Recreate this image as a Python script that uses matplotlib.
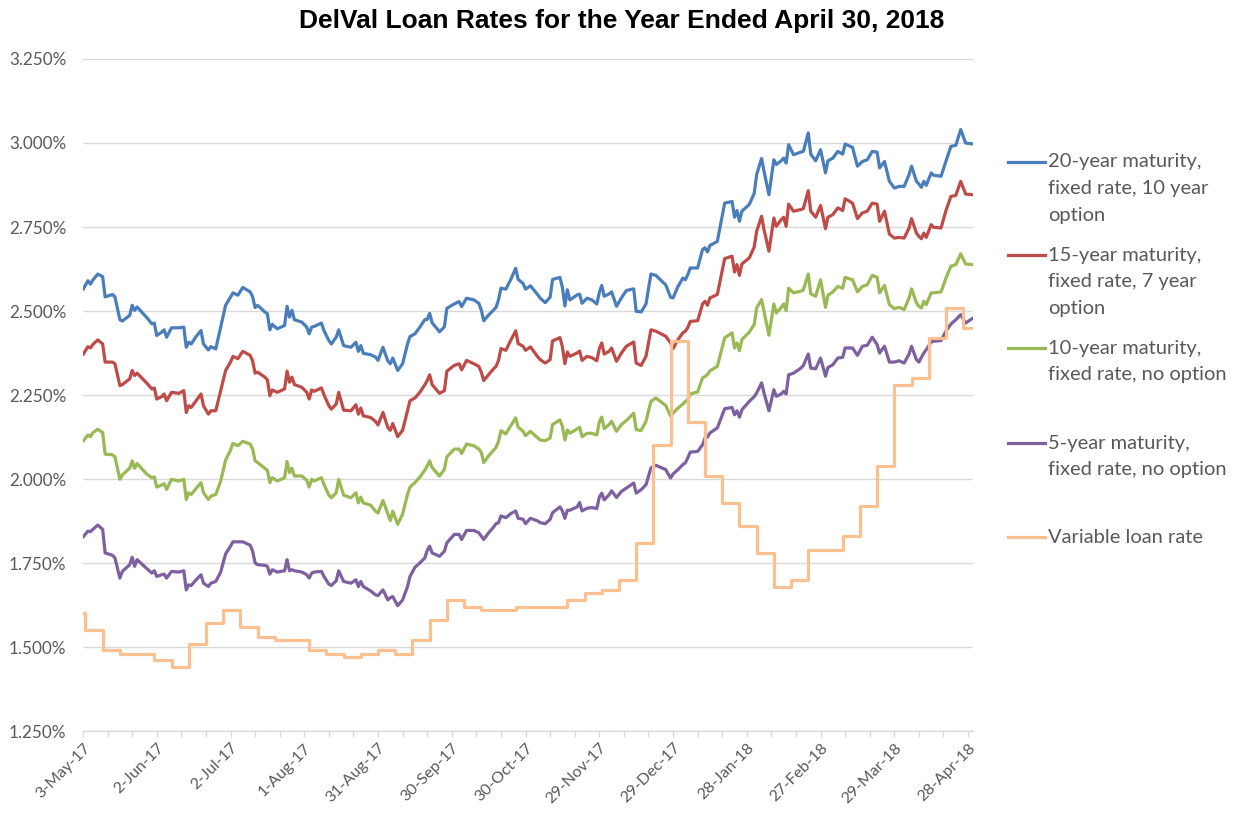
import numpy as np
import pandas as pd
import matplotlib
matplotlib.use('Agg')
import matplotlib.pyplot as plt
from matplotlib.lines import Line2D
from matplotlib.ticker import FuncFormatter

plt.rcParams['font.family'] = ['Lato', 'DejaVu Sans']

# --- data: rates in percent, days counted from 3 May 2017 ---
start = pd.Timestamp('2017-05-03')
end_day = 362

day = [0, 2, 3, 4, 6, 8, 9, 12, 13, 15,
       16, 19, 20, 21, 22, 26, 28, 29, 30, 32,
       33, 34, 36, 39, 41, 42, 43, 44, 46, 48,
       49, 51, 52, 54, 56, 58, 60, 61, 63, 65,
       68, 69, 70, 71, 74, 75, 76, 77, 79, 82,
       83, 84, 85, 86, 89, 91, 92, 93, 94, 97,
       98, 100, 101, 103, 104, 106, 109, 111, 112, 113,
       114, 117, 119, 120, 122, 124, 125, 126, 128, 130,
       132, 133, 135, 137, 139, 140, 141, 142, 145, 147,
       148, 151, 153, 154, 156, 159, 161, 162, 163, 165,
       167, 168, 169, 170, 172, 174, 176, 177, 179, 180,
       182, 185, 186, 188, 190, 191, 194, 195, 196, 197,
       198, 201, 202, 203, 205, 207, 209, 210, 211, 212,
       214, 215, 217, 219, 221, 224, 225, 227, 229, 231,
       233, 237, 239, 240, 242, 244, 245, 246, 247, 250,
       252, 253, 254, 255, 258, 261, 264, 265, 266, 267,
       268, 271, 273, 274, 276, 277, 279, 281, 282, 284,
       285, 286, 287, 289, 292, 293, 295, 296, 298, 300,
       302, 303, 305, 307, 309, 310, 313, 315, 317, 319,
       321, 323, 324, 326, 328, 330, 332, 334, 336, 337,
       339, 340, 341, 342, 343, 345, 346, 349, 351, 353,
       355, 357, 359, 362]

rate_20y = [2.564, 2.590, 2.580, 2.592, 2.610, 2.602, 2.542, 2.549, 2.542, 2.474,
            2.470, 2.487, 2.517, 2.502, 2.512, 2.480, 2.462, 2.464, 2.427, 2.437,
            2.444, 2.422, 2.450, 2.450, 2.452, 2.392, 2.407, 2.402, 2.424, 2.442,
            2.402, 2.384, 2.394, 2.387, 2.452, 2.517, 2.542, 2.554, 2.547, 2.570,
            2.557, 2.542, 2.510, 2.517, 2.497, 2.492, 2.444, 2.460, 2.447, 2.457,
            2.514, 2.482, 2.502, 2.474, 2.467, 2.452, 2.432, 2.452, 2.454, 2.464,
            2.442, 2.412, 2.402, 2.422, 2.444, 2.397, 2.392, 2.407, 2.380, 2.397,
            2.374, 2.370, 2.363, 2.353, 2.392, 2.351, 2.343, 2.360, 2.323, 2.343,
            2.402, 2.424, 2.432, 2.452, 2.474, 2.475, 2.493, 2.465, 2.438, 2.453,
            2.508, 2.521, 2.528, 2.513, 2.538, 2.533, 2.523, 2.503, 2.471, 2.488,
            2.503, 2.511, 2.533, 2.568, 2.565, 2.594, 2.627, 2.594, 2.582, 2.565,
            2.575, 2.548, 2.538, 2.525, 2.541, 2.594, 2.600, 2.570, 2.515, 2.563,
            2.533, 2.548, 2.550, 2.523, 2.538, 2.533, 2.521, 2.555, 2.576, 2.544,
            2.551, 2.557, 2.514, 2.539, 2.561, 2.566, 2.499, 2.497, 2.521, 2.610,
            2.606, 2.578, 2.541, 2.539, 2.573, 2.598, 2.593, 2.608, 2.628, 2.628,
            2.683, 2.688, 2.676, 2.695, 2.707, 2.821, 2.826, 2.779, 2.799, 2.767,
            2.797, 2.817, 2.850, 2.906, 2.954, 2.916, 2.846, 2.950, 2.936, 2.947,
            2.955, 2.940, 2.995, 2.965, 2.973, 2.975, 3.030, 2.967, 2.947, 2.980,
            2.911, 2.947, 2.955, 2.975, 2.967, 2.997, 2.987, 2.931, 2.945, 2.950,
            2.975, 2.973, 2.926, 2.945, 2.886, 2.866, 2.871, 2.871, 2.906, 2.931,
            2.886, 2.878, 2.868, 2.886, 2.874, 2.911, 2.904, 2.901, 2.945, 2.990,
            2.993, 3.040, 3.000, 2.997]

rate_15y = [2.370, 2.394, 2.390, 2.400, 2.414, 2.402, 2.348, 2.348, 2.343, 2.278,
            2.281, 2.298, 2.323, 2.308, 2.315, 2.285, 2.268, 2.271, 2.238, 2.245,
            2.253, 2.233, 2.258, 2.255, 2.263, 2.198, 2.218, 2.213, 2.233, 2.253,
            2.218, 2.193, 2.203, 2.203, 2.263, 2.323, 2.348, 2.365, 2.358, 2.380,
            2.368, 2.351, 2.315, 2.318, 2.303, 2.295, 2.248, 2.265, 2.258, 2.268,
            2.321, 2.288, 2.303, 2.281, 2.273, 2.258, 2.238, 2.265, 2.261, 2.271,
            2.251, 2.218, 2.208, 2.223, 2.258, 2.205, 2.203, 2.221, 2.193, 2.211,
            2.188, 2.183, 2.171, 2.161, 2.198, 2.153, 2.145, 2.165, 2.126, 2.145,
            2.203, 2.233, 2.241, 2.258, 2.280, 2.293, 2.310, 2.281, 2.255, 2.263,
            2.321, 2.338, 2.343, 2.325, 2.353, 2.343, 2.335, 2.318, 2.293, 2.311,
            2.328, 2.335, 2.353, 2.388, 2.383, 2.413, 2.441, 2.403, 2.395, 2.383,
            2.393, 2.363, 2.355, 2.345, 2.355, 2.411, 2.421, 2.393, 2.343, 2.378,
            2.365, 2.375, 2.381, 2.353, 2.365, 2.361, 2.352, 2.388, 2.405, 2.372,
            2.380, 2.390, 2.350, 2.375, 2.395, 2.408, 2.345, 2.338, 2.365, 2.444,
            2.440, 2.425, 2.405, 2.388, 2.415, 2.435, 2.440, 2.451, 2.469, 2.471,
            2.521, 2.529, 2.517, 2.539, 2.549, 2.656, 2.663, 2.616, 2.638, 2.606,
            2.640, 2.658, 2.690, 2.737, 2.782, 2.742, 2.678, 2.777, 2.752, 2.772,
            2.779, 2.752, 2.818, 2.797, 2.802, 2.805, 2.858, 2.797, 2.779, 2.814,
            2.745, 2.779, 2.787, 2.807, 2.799, 2.834, 2.821, 2.775, 2.792, 2.797,
            2.821, 2.818, 2.767, 2.797, 2.729, 2.717, 2.719, 2.717, 2.747, 2.775,
            2.732, 2.722, 2.715, 2.732, 2.719, 2.757, 2.749, 2.747, 2.799, 2.841,
            2.844, 2.886, 2.848, 2.846]

rate_10y = [2.112, 2.131, 2.126, 2.138, 2.148, 2.138, 2.074, 2.072, 2.066, 1.999,
            2.012, 2.032, 2.054, 2.032, 2.046, 2.014, 2.004, 2.006, 1.976, 1.982,
            1.986, 1.969, 1.999, 1.994, 1.999, 1.939, 1.959, 1.954, 1.972, 1.989,
            1.959, 1.939, 1.949, 1.954, 1.994, 2.056, 2.086, 2.106, 2.099, 2.112,
            2.104, 2.089, 2.054, 2.049, 2.032, 2.026, 1.989, 2.004, 1.994, 2.004,
            2.052, 2.019, 2.032, 2.009, 2.009, 1.996, 1.976, 1.999, 1.994, 2.004,
            1.984, 1.952, 1.944, 1.959, 1.999, 1.952, 1.944, 1.959, 1.929, 1.946,
            1.929, 1.922, 1.904, 1.899, 1.936, 1.896, 1.876, 1.904, 1.865, 1.896,
            1.954, 1.976, 1.989, 2.006, 2.026, 2.039, 2.054, 2.034, 2.009, 2.029,
            2.066, 2.089, 2.089, 2.076, 2.104, 2.099, 2.089, 2.079, 2.049, 2.069,
            2.086, 2.094, 2.112, 2.144, 2.134, 2.159, 2.182, 2.154, 2.142, 2.129,
            2.142, 2.122, 2.116, 2.114, 2.122, 2.162, 2.176, 2.156, 2.116, 2.146,
            2.136, 2.149, 2.154, 2.126, 2.136, 2.136, 2.131, 2.170, 2.184, 2.150,
            2.162, 2.172, 2.142, 2.162, 2.174, 2.196, 2.147, 2.144, 2.172, 2.231,
            2.241, 2.219, 2.187, 2.196, 2.211, 2.223, 2.231, 2.236, 2.253, 2.259,
            2.301, 2.305, 2.311, 2.322, 2.335, 2.420, 2.435, 2.390, 2.405, 2.382,
            2.415, 2.437, 2.460, 2.509, 2.534, 2.499, 2.428, 2.521, 2.494, 2.511,
            2.521, 2.501, 2.568, 2.554, 2.559, 2.563, 2.610, 2.551, 2.544, 2.593,
            2.511, 2.547, 2.557, 2.573, 2.568, 2.600, 2.593, 2.557, 2.573, 2.578,
            2.606, 2.600, 2.554, 2.576, 2.519, 2.507, 2.511, 2.504, 2.539, 2.566,
            2.524, 2.514, 2.509, 2.529, 2.519, 2.554, 2.554, 2.557, 2.598, 2.633,
            2.638, 2.670, 2.640, 2.638]

rate_5y = [1.827, 1.845, 1.843, 1.850, 1.863, 1.850, 1.780, 1.773, 1.765, 1.705,
           1.725, 1.745, 1.767, 1.740, 1.760, 1.733, 1.720, 1.727, 1.710, 1.715,
           1.717, 1.705, 1.725, 1.723, 1.727, 1.670, 1.685, 1.683, 1.700, 1.715,
           1.690, 1.680, 1.690, 1.695, 1.723, 1.777, 1.800, 1.813, 1.813, 1.813,
           1.803, 1.785, 1.750, 1.745, 1.743, 1.740, 1.717, 1.730, 1.723, 1.727,
           1.760, 1.727, 1.730, 1.727, 1.723, 1.715, 1.705, 1.720, 1.723, 1.725,
           1.710, 1.687, 1.683, 1.697, 1.727, 1.695, 1.690, 1.700, 1.680, 1.695,
           1.680, 1.667, 1.655, 1.653, 1.670, 1.640, 1.647, 1.650, 1.623, 1.640,
           1.680, 1.710, 1.737, 1.750, 1.765, 1.787, 1.800, 1.780, 1.770, 1.785,
           1.810, 1.835, 1.835, 1.820, 1.847, 1.847, 1.840, 1.830, 1.820, 1.840,
           1.857, 1.867, 1.870, 1.890, 1.885, 1.897, 1.905, 1.883, 1.880, 1.867,
           1.883, 1.875, 1.870, 1.867, 1.880, 1.900, 1.917, 1.905, 1.883, 1.907,
           1.907, 1.917, 1.930, 1.905, 1.913, 1.915, 1.912, 1.946, 1.958, 1.938,
           1.953, 1.965, 1.945, 1.963, 1.973, 1.988, 1.958, 1.968, 1.983, 2.033,
           2.041, 2.028, 2.003, 2.015, 2.028, 2.043, 2.048, 2.063, 2.080, 2.082,
           2.102, 2.122, 2.125, 2.137, 2.152, 2.209, 2.213, 2.191, 2.203, 2.184,
           2.206, 2.231, 2.245, 2.256, 2.286, 2.256, 2.203, 2.266, 2.246, 2.253,
           2.261, 2.253, 2.310, 2.315, 2.330, 2.338, 2.372, 2.330, 2.328, 2.360,
           2.306, 2.332, 2.340, 2.360, 2.362, 2.390, 2.390, 2.368, 2.395, 2.398,
           2.422, 2.400, 2.375, 2.395, 2.348, 2.348, 2.352, 2.345, 2.372, 2.395,
           2.355, 2.348, 2.362, 2.375, 2.385, 2.408, 2.410, 2.412, 2.440, 2.461,
           2.474, 2.489, 2.464, 2.479]

# variable rate resets weekly (Thursdays)
reset_day = [0, 1, 8, 15, 22, 29, 36, 43, 50, 57, 64, 71, 78, 85, 92, 99, 106,
             113, 120, 127, 134, 141, 148, 155, 162, 169, 176, 183, 190, 197,
             204, 211, 218, 225, 232, 239, 246, 253, 260, 267, 274, 281, 288,
             295, 302, 309, 316, 323, 330, 337, 344, 351, 358]
variable_rate = [1.60, 1.55, 1.49, 1.48, 1.48, 1.46, 1.44, 1.51, 1.57, 1.61, 1.56,
                 1.53, 1.52, 1.52, 1.49, 1.48, 1.47, 1.48, 1.49, 1.48, 1.52, 1.58,
                 1.64, 1.62, 1.61, 1.61, 1.62, 1.62, 1.62, 1.64, 1.66, 1.67, 1.70,
                 1.81, 2.10, 2.41, 2.17, 2.01, 1.93, 1.86, 1.78, 1.68, 1.70, 1.79,
                 1.79, 1.83, 1.92, 2.04, 2.28, 2.30, 2.42, 2.51, 2.45]

series_names = ["20-year maturity,\nfixed rate, 10 year\noption",
                "15-year maturity,\nfixed rate, 7 year\noption",
                "10-year maturity,\nfixed rate, no option",
                "5-year maturity,\nfixed rate, no option",
                "Variable loan rate"]
colors = ['#4a7ebb', '#be4b48', '#98b954', '#7d60a0', '#fac08f']

title = "DelVal Loan Rates for the Year Ended April 30, 2018"

# --- figure ---
W, H = 1241, 813
fig = plt.figure(figsize=(W / 100, H / 100), dpi=100)
ax = fig.add_axes([83 / W, 1 - 731 / H, 890 / W, 672 / H])

dates = start + pd.to_timedelta(day, unit='D')
for vals, color in zip([rate_20y, rate_15y, rate_10y, rate_5y], colors[:4]):
    ax.plot(dates, vals, color=color, lw=2.3,
            solid_joinstyle='round', solid_capstyle='round')

var_dates = start + pd.to_timedelta(reset_day + [end_day], unit='D')
ax.step(var_dates, variable_rate + [variable_rate[-1]], where='post',
        color=colors[4], lw=2.3, solid_joinstyle='round')

# y axis
ax.set_ylim(1.25, 3.25)
ax.set_yticks(np.arange(1.25, 3.26, 0.25))
ax.yaxis.set_major_formatter(FuncFormatter(lambda v, _: f'{v:.3f}%'))
ax.yaxis.grid(True, color='#d9d9d9', lw=1)
ax.set_axisbelow(True)
ax.tick_params(axis='y', length=0, pad=12, labelsize=12.3, labelcolor='#595959')

# x axis: labels every 30 days, tick marks every 10
ax.set_xlim(start, start + pd.Timedelta(days=end_day))
major = pd.date_range(start, periods=13, freq='30D')
minor = pd.date_range(start, start + pd.Timedelta(days=end_day), freq='10D')
ax.set_xticks(major)
ax.set_xticks(minor, minor=True)
ax.set_xticklabels([f"{d.day}-{d.strftime('%b-%y')}" for d in major],
                   rotation=45, ha='right', va='top', rotation_mode='anchor')
ax.tick_params(axis='x', which='both', direction='out', length=4, width=1,
               color='#d9d9d9', labelsize=11.5, labelcolor='#595959', pad=3)

for side in ['left', 'right', 'top']:
    ax.spines[side].set_visible(False)
ax.spines['bottom'].set_color('#d9d9d9')
ax.spines['bottom'].set_linewidth(1)

fig.text(0.501, 1 - 21 / H, title, ha='center', va='center', fontsize=19,
         fontweight='bold', family='Liberation Sans')

# legend at the right, handle next to the first text line
line_gap = 26.7
entry_top = [162, 255, 348, 443, 537]
for name, color, y0 in zip(series_names, colors, entry_top):
    fig.add_artist(Line2D([1008 / W, 1045 / W], [1 - y0 / H] * 2, color=color,
                          lw=2.3, transform=fig.transFigure))
    for i, part in enumerate(name.split('\n')):
        fig.text(1048 / W, 1 - (y0 + i * line_gap) / H, part, ha='left',
                 va='center', fontsize=14.5, color='#595959')

fig.savefig('out.png', dpi=100)
